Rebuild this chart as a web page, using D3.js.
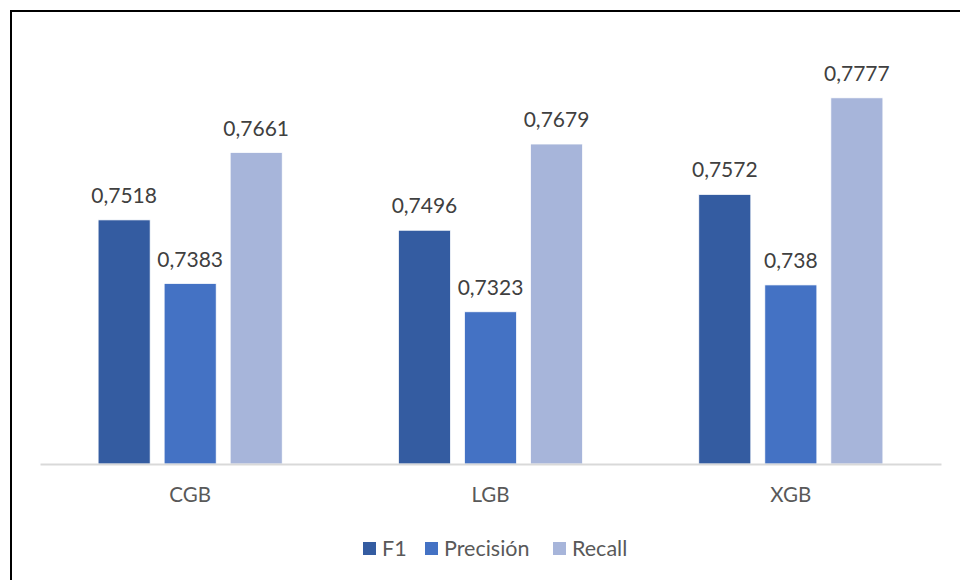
<!DOCTYPE html>
<html>
<head>
<meta charset="utf-8">
<script src="https://cdn.jsdelivr.net/npm/d3@7"></script>
<style>
	body { margin: 0; background: #fff; }
	svg { display: block; font-family: Lato, "Open Sans", sans-serif; }
</style>
</head>
<body>
<script>
var categories = ["CGB", "LGB", "XGB"];
var seriesNames = ["F1", "Precisión", "Recall"];
var f1Values = [0.7518, 0.7496, 0.7572];
var precisionValues = [0.7383, 0.7323, 0.738];
var recallValues = [0.7661, 0.7679, 0.7777];
var colors = ["#345ca1", "#4472c4", "#a7b5da"];

var width = 960, height = 580;
var plot = { left: 40, right: 941, top: 87, bottom: 464 };

var svg = d3.select("body").append("svg")
	.attr("width", width)
	.attr("height", height);

// frame (only left and top edges fall inside the picture)
svg.append("path")
	.attr("d", "M11,580 L11,11 L960,11")
	.attr("fill", "none")
	.attr("stroke", "#000")
	.attr("stroke-width", 2);

var allSeries = [f1Values, precisionValues, recallValues];

var x0 = d3.scaleBand()
	.domain(categories)
	.range([plot.left, plot.right]);

var x1 = d3.scaleBand()
	.domain(seriesNames)
	.range([0, x0.bandwidth()])
	.paddingInner(0.212)
	.paddingOuter(0.88);

var yScale = d3.scaleLinear()
	.domain([0.70, 0.78])
	.range([plot.bottom, plot.top]);

var rows = [];
categories.forEach(function (cat, i) {
	seriesNames.forEach(function (name, j) {
		rows.push({ cat: cat, series: name, value: allSeries[j][i], idx: j });
	});
});

var bars = svg.append("g");
bars.selectAll("rect")
	.data(rows).enter()
	.append("rect")
	.attr("x", function (d) { return x0(d.cat) + x1(d.series); })
	.attr("y", function (d) { return yScale(d.value); })
	.attr("width", x1.bandwidth())
	.attr("height", function (d) { return plot.bottom - yScale(d.value); })
	.attr("fill", function (d) { return colors[d.idx]; })
	.attr("stroke", "#fff")
	.attr("stroke-width", 0.75);

bars.selectAll("text")
	.data(rows).enter()
	.append("text")
	.attr("x", function (d) { return x0(d.cat) + x1(d.series) + x1.bandwidth() / 2; })
	.attr("y", function (d) { return yScale(d.value) - 17; })
	.attr("text-anchor", "middle")
	.attr("font-size", 21)
	.attr("fill", "#404040")
	.text(function (d) { return String(d.value).replace(".", ","); });

// x axis
var xAxis = d3.axisBottom(x0).tickSize(0).tickPadding(23);
var axisG = svg.append("g")
	.attr("transform", "translate(0," + plot.bottom + ")")
	.call(xAxis);
axisG.select(".domain").attr("stroke", "#d9d9d9").attr("stroke-width", 2);
axisG.selectAll("text")
	.attr("font-family", "Lato, sans-serif")
	.attr("font-size", 20.5)
	.attr("fill", "#595959");

// legend
var legendItems = [
	{ name: seriesNames[0], x: 363 },
	{ name: seriesNames[1], x: 425 },
	{ name: seriesNames[2], x: 553 }
];
var legend = svg.append("g");
legendItems.forEach(function (item, i) {
	legend.append("rect")
		.attr("x", item.x).attr("y", 542)
		.attr("width", 13).attr("height", 13)
		.attr("fill", colors[i]);
	legend.append("text")
		.attr("x", item.x + 19).attr("y", 556)
		.attr("font-size", 21.5)
		.attr("fill", "#595959")
		.text(item.name);
});
</script>
</body>
</html>
